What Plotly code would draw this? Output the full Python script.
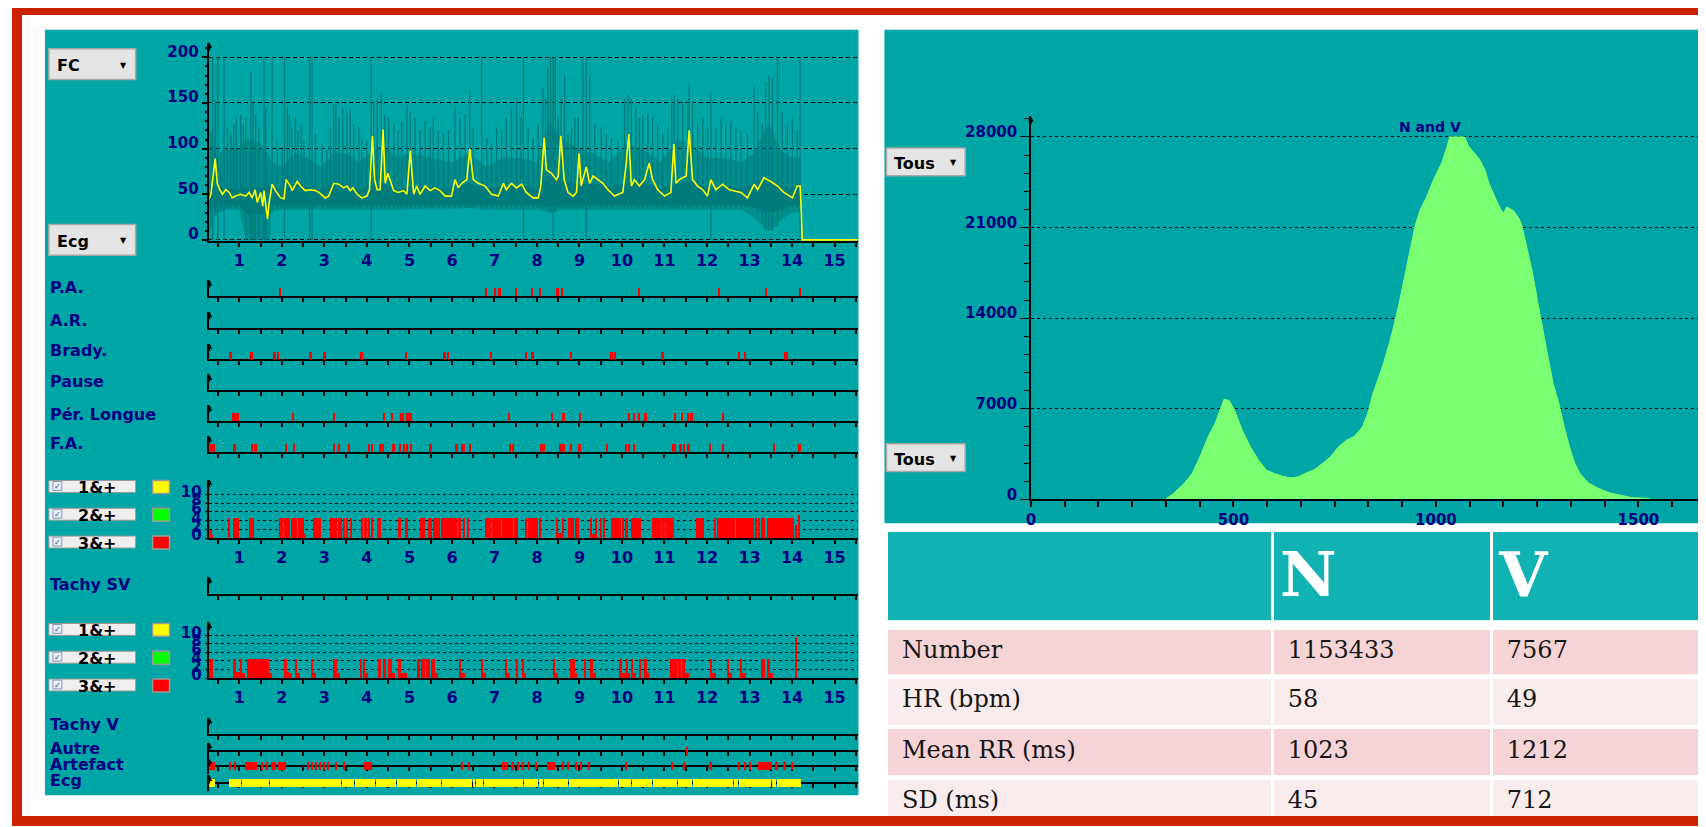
import plotly.graph_objects as go

# ======================= DATA =======================
hour_labels = ['1', '2', '3', '4', '5', '6', '7', '8', '9', '10', '11', '12', '13', '14', '15']
fc_yticks = [0, 50, 100, 150, 200]
count_yticks = [0, 2, 4, 6, 8, 10]
hist_xticks = [0, 500, 1000, 1500]
hist_yticks = [0, 7000, 14000, 21000, 28000]

# mean heart rate (yellow) : time in hours, bpm
fc_t = [0.29, 0.33, 0.43, 0.48, 0.54, 0.60, 0.68, 0.76, 0.83, 0.91,
        1.03, 1.15, 1.23, 1.30, 1.37, 1.42, 1.50, 1.55, 1.58, 1.62,
        1.66, 1.70, 1.73, 1.77, 1.85, 1.97, 2.05, 2.10, 2.20, 2.24,
        2.36, 2.44, 2.55, 2.67, 2.79, 2.87, 3.02, 3.10, 3.22, 3.34,
        3.45, 3.53, 3.61, 3.67, 3.77, 3.88, 4.00, 4.06, 4.13, 4.18,
        4.24, 4.31, 4.38, 4.43, 4.49, 4.57, 4.63, 4.74, 4.86, 4.94,
        5.02, 5.10, 5.17, 5.25, 5.37, 5.49, 5.60, 5.72, 5.84, 5.99,
        6.07, 6.15, 6.23, 6.35, 6.42, 6.50, 6.62, 6.78, 6.93, 7.09,
        7.21, 7.28, 7.40, 7.52, 7.64, 7.75, 7.91, 8.03, 8.09, 8.17,
        8.22, 8.34, 8.46, 8.50, 8.56, 8.64, 8.73, 8.85, 8.93, 8.99,
        9.04, 9.16, 9.24, 9.32, 9.43, 9.55, 9.67, 9.82, 10.02, 10.10,
        10.16, 10.22, 10.29, 10.41, 10.53, 10.64, 10.72, 10.84, 11.00, 11.15,
        11.22, 11.27, 11.35, 11.51, 11.58, 11.66, 11.78, 11.90, 12.01, 12.09,
        12.21, 12.37, 12.52, 12.64, 12.80, 12.95, 13.11, 13.19, 13.34, 13.50,
        13.66, 13.81, 14.01, 14.12, 14.19, 14.22, 14.24, 15.60]
fc_hr = [45, 50, 89, 62, 55, 50, 55, 52, 46, 48,
         50, 48, 52, 46, 55, 41, 52, 37, 54, 41,
         23, 41, 52, 61, 54, 46, 45, 66, 59, 54,
         64, 59, 54, 55, 54, 52, 46, 48, 62, 61,
         57, 59, 54, 57, 50, 46, 48, 55, 114, 66,
         55, 55, 121, 62, 73, 62, 54, 52, 54, 50,
         98, 50, 59, 50, 59, 54, 57, 54, 48, 48,
         66, 57, 62, 66, 100, 66, 62, 59, 50, 48,
         62, 55, 62, 57, 61, 52, 46, 46, 59, 112,
         77, 73, 66, 70, 114, 66, 52, 48, 52, 95,
         59, 80, 62, 70, 66, 62, 55, 48, 52, 84,
         116, 59, 66, 59, 66, 84, 66, 55, 48, 52,
         105, 62, 66, 70, 120, 66, 59, 55, 48, 66,
         55, 61, 55, 54, 52, 46, 61, 55, 68, 64,
         59, 52, 46, 59, 59, 29, 0, 0]

# instantaneous HR envelope (dark band)
env_t = [0.29, 0.4, 0.5, 0.7, 1.0, 1.15, 1.2, 1.5, 1.72, 1.75,
         2.0, 2.3, 2.6, 2.9, 3.2, 3.5, 3.8, 4.1, 4.4, 4.7,
         5.0, 5.5, 6.0, 6.4, 6.8, 7.2, 7.6, 8.0, 8.3, 8.6,
         9.0, 9.3, 9.7, 10.1, 10.5, 10.9, 11.3, 11.6, 12.0, 12.4,
         12.8, 13.1, 13.35, 13.5, 13.7, 14.0, 14.19]
env_hi = [125, 105, 95, 100, 100, 110, 110, 105, 90, 85,
          80, 95, 90, 80, 95, 95, 85, 95, 105, 90,
          95, 90, 85, 95, 80, 90, 90, 85, 130, 110,
          100, 95, 85, 105, 100, 85, 110, 105, 90, 90,
          85, 95, 120, 125, 100, 90, 90]
env_lo = [5, 25, 30, 33, 33, 0, 0, 0, 0, 32,
          33, 33, 33, 33, 33, 33, 33, 33, 33, 33,
          33, 34, 34, 35, 33, 33, 33, 33, 30, 33,
          33, 33, 33, 33, 33, 33, 33, 33, 33, 33,
          33, 25, 12, 10, 20, 30, 30]
core_hi = [60, 58, 58, 56, 56, 58, 58, 58, 60, 58,
           56, 62, 58, 56, 62, 62, 56, 60, 62, 56,
           58, 58, 56, 62, 56, 60, 60, 56, 70, 66,
           60, 62, 58, 62, 64, 56, 62, 64, 58, 60,
           56, 62, 68, 66, 60, 56, 60]
core_lo = [30, 35, 38, 38, 38, 28, 28, 28, 28, 37,
           38, 38, 38, 38, 38, 38, 38, 38, 38, 38,
           38, 38, 38, 38, 38, 38, 38, 38, 36, 38,
           38, 38, 38, 38, 38, 38, 38, 38, 38, 38,
           38, 36, 30, 30, 32, 38, 38]

# isolated instantaneous HR spikes: (time h, top bpm, bottom bpm)
fc_spikes = [(0.37, 200, 0), (0.43, 154, 30), (0.49, 200, 0), (0.56, 80, 35), (0.64, 200, 0),
             (0.72, 123, 35), (0.80, 116, 35), (0.87, 127, 35), (0.93, 134, 35), (1.03, 137, 35),
             (1.09, 127, 35), (1.15, 134, 0), (1.27, 184, 0), (1.32, 152, 0), (1.38, 137, 0),
             (1.46, 123, 0), (1.58, 200, 0), (1.62, 145, 0), (1.77, 200, 30), (1.89, 109, 35),
             (2.01, 98, 35), (2.06, 200, 0), (2.13, 145, 35), (2.18, 136, 35), (2.24, 123, 35),
             (2.32, 134, 35), (2.38, 120, 35), (2.46, 127, 35), (2.52, 109, 35), (2.65, 200, 0),
             (2.71, 200, 0), (2.79, 116, 35), (2.95, 105, 35), (3.06, 98, 35), (3.14, 123, 35),
             (3.22, 148, 35), (3.27, 152, 35), (3.34, 134, 35), (3.43, 145, 35), (3.53, 139, 35),
             (3.61, 143, 35), (3.69, 127, 35), (3.81, 123, 35), (3.88, 112, 35), (4.00, 109, 35),
             (4.10, 200, 0), (4.16, 148, 35), (4.24, 155, 35), (4.34, 162, 35), (4.42, 137, 35),
             (4.51, 134, 35), (4.63, 127, 35), (4.73, 120, 35), (4.82, 130, 35), (4.94, 148, 35),
             (5.02, 141, 35), (5.13, 134, 35), (5.25, 120, 35), (5.37, 130, 35), (5.49, 123, 35),
             (5.56, 134, 35), (5.68, 120, 35), (5.80, 116, 35), (5.92, 120, 35), (6.07, 145, 35),
             (6.19, 134, 35), (6.31, 137, 35), (6.42, 164, 35), (6.50, 123, 35), (6.70, 200, 35),
             (6.82, 112, 35), (6.93, 105, 35), (7.05, 123, 35), (7.17, 120, 35), (7.28, 134, 35),
             (7.40, 143, 35), (7.52, 155, 35), (7.62, 134, 35), (7.68, 200, 0), (7.79, 123, 35),
             (7.91, 112, 35), (8.03, 127, 35), (8.14, 166, 35), (8.20, 155, 35), (8.26, 188, 35),
             (8.32, 200, 30), (8.38, 200, 0), (8.43, 200, 30), (8.50, 134, 35), (8.57, 155, 35),
             (8.65, 180, 35), (8.73, 116, 35), (8.81, 123, 35), (8.89, 134, 35), (8.97, 134, 35),
             (9.08, 200, 35), (9.16, 200, 0), (9.24, 180, 35), (9.36, 127, 35), (9.51, 123, 35),
             (9.63, 116, 35), (9.75, 112, 35), (9.90, 109, 35), (10.06, 155, 35), (10.14, 159, 35),
             (10.22, 155, 35), (10.33, 145, 35), (10.41, 134, 35), (10.49, 137, 35), (10.61, 139, 35),
             (10.72, 134, 35), (10.84, 127, 35), (10.96, 116, 35), (11.08, 123, 35), (11.17, 155, 35),
             (11.23, 159, 35), (11.31, 155, 35), (11.43, 152, 35), (11.55, 148, 35), (11.58, 171, 35),
             (11.66, 152, 35), (11.78, 127, 35), (11.90, 134, 35), (12.01, 123, 35), (12.09, 161, 0),
             (12.21, 123, 35), (12.33, 134, 35), (12.44, 127, 35), (12.56, 130, 35), (12.68, 123, 35),
             (12.80, 120, 35), (12.95, 116, 35), (13.11, 168, 35), (13.19, 141, 30), (13.30, 127, 20),
             (13.38, 173, 12), (13.46, 180, 10), (13.54, 177, 10), (13.66, 200, 15), (13.77, 141, 25),
             (13.89, 127, 30), (14.01, 134, 35), (14.12, 120, 35), (14.19, 200, 0)]

# event strips: (start h, end h)
pa_events = [(1.96, 2.0), (6.80, 6.84), (7.01, 7.05), (7.09, 7.16), (7.50, 7.54), (7.87, 7.91),
             (8.06, 8.10), (8.48, 8.52), (8.59, 8.63), (10.39, 10.43), (12.27, 12.31),
             (13.39, 13.43), (14.18, 14.22)]
ar_events = []
brady_events = [(0.77, 0.84), (1.25, 1.33), (1.82, 1.86), (1.91, 1.95), (2.67, 2.71), (2.98, 3.05),
                (3.84, 3.91), (4.92, 4.96), (5.82, 5.86), (5.90, 5.94), (6.91, 6.95), (7.73, 7.77),
                (7.86, 7.93), (8.79, 8.83), (9.75, 9.79), (9.83, 9.87), (10.92, 11.0), (12.75, 12.79),
                (12.89, 12.93), (13.83, 13.91)]
pause_events = []
long_events = [(0.84, 1.0), (2.26, 2.30), (3.22, 3.26), (4.40, 4.44), (4.58, 4.62), (4.79, 4.83),
               (4.85, 4.89), (4.92, 5.06), (7.34, 7.38), (8.34, 8.38), (8.62, 8.66), (9.0, 9.04),
               (10.16, 10.20), (10.27, 10.31), (10.39, 10.43), (10.55, 10.59), (11.25, 11.29),
               (11.41, 11.45), (11.55, 11.59), (11.63, 11.67), (12.37, 12.41)]
fa_events = [(0.31, 0.34), (0.36, 0.39), (0.40, 0.43), (0.88, 0.92), (1.29, 1.33), (1.36, 1.42),
             (2.08, 2.13), (2.28, 2.32), (3.22, 3.26), (3.33, 3.37), (3.57, 3.62), (4.04, 4.08),
             (4.11, 4.16), (4.30, 4.42), (4.62, 4.66), (4.78, 4.82), (4.86, 4.90), (4.94, 4.98),
             (5.04, 5.08), (5.49, 5.53), (6.08, 6.16), (6.23, 6.31), (6.42, 6.46), (7.36, 7.40),
             (7.44, 7.48), (8.09, 8.20), (8.52, 8.66), (8.79, 8.83), (8.97, 9.04), (9.65, 9.69),
             (10.09, 10.13), (10.16, 10.20), (10.27, 10.31), (11.18, 11.29), (11.37, 11.41),
             (11.45, 11.49), (11.55, 11.62), (12.07, 12.11), (12.37, 12.41), (13.57, 13.61),
             (14.17, 14.21)]

# supraventricular ectopy counts: (start h, end h, count)
sv_events = [(0.29, 0.32, 4.6), (0.32, 0.36, 2.0), (0.36, 0.39, 0.8), (0.76, 0.80, 4.6), (0.87, 0.95, 4.6),
             (0.97, 1.01, 4.6), (1.24, 1.36, 4.6), (1.93, 1.98, 4.6), (2.00, 2.04, 4.6), (2.06, 2.20, 4.6),
             (2.22, 2.36, 4.6), (2.38, 2.45, 4.6), (2.47, 2.52, 4.6), (2.54, 2.57, 1.0), (2.75, 2.93, 4.6),
             (3.13, 3.30, 4.6), (3.32, 3.42, 4.6), (3.44, 3.49, 4.6), (3.53, 3.57, 4.6), (3.60, 3.67, 4.6),
             (3.88, 3.92, 4.6), (3.94, 4.00, 4.6), (4.04, 4.08, 4.6), (4.10, 4.16, 4.6), (4.24, 4.35, 4.6),
             (4.74, 4.82, 4.6), (4.90, 4.98, 4.6), (5.25, 5.37, 4.6), (5.45, 5.53, 4.6), (5.56, 5.72, 4.6),
             (5.76, 6.05, 4.6), (6.08, 6.12, 4.6), (6.15, 6.23, 4.6), (6.27, 6.31, 4.6), (6.36, 6.42, 4.6),
             (6.79, 6.93, 4.6), (6.95, 7.17, 4.6), (7.19, 7.44, 4.6), (7.48, 7.56, 4.6), (7.73, 7.78, 4.6),
             (7.80, 7.86, 4.6), (7.88, 8.03, 4.6), (8.05, 8.11, 4.6), (8.46, 8.50, 4.6), (8.50, 8.60, 1.2),
             (8.60, 8.65, 4.6), (8.73, 8.89, 4.6), (8.91, 9.0, 4.6), (9.28, 9.31, 4.6), (9.31, 9.38, 1.0),
             (9.38, 9.43, 4.6), (9.50, 9.54, 4.6), (9.56, 9.61, 4.6), (9.75, 9.98, 4.6), (10.02, 10.06, 4.6),
             (10.08, 10.14, 4.6), (10.22, 10.45, 4.6), (10.72, 10.92, 4.6), (10.95, 11.02, 4.6),
             (11.04, 11.23, 4.6), (11.74, 11.95, 4.6), (12.17, 12.23, 4.6), (12.25, 12.40, 4.6),
             (12.43, 12.47, 4.6), (12.49, 12.66, 4.6), (12.68, 13.11, 4.6), (13.15, 13.18, 4.6),
             (13.22, 13.25, 4.6), (13.29, 13.32, 4.6), (13.35, 13.38, 4.6), (13.42, 14.05, 4.6),
             (14.08, 14.12, 3.0), (14.16, 14.19, 5.5)]
tachy_sv_events = []

# ventricular ectopy counts: (start h, end h, count)
v_events = [(0.30, 0.40, 4.4), (0.87, 0.93, 4.4), (0.93, 1.03, 1.2), (1.03, 1.07, 4.4), (1.07, 1.15, 1.0),
            (1.19, 1.70, 4.4), (1.70, 1.77, 1.0), (2.05, 2.12, 4.4), (2.12, 2.17, 1.2), (2.17, 2.25, 1.0),
            (2.32, 2.36, 4.4), (2.36, 2.44, 1.0), (2.71, 2.75, 4.4), (2.75, 2.82, 1.0), (3.22, 3.25, 4.4),
            (3.27, 3.30, 4.4), (3.30, 3.38, 1.0), (3.87, 3.90, 4.4), (3.92, 3.96, 4.4), (3.96, 4.04, 1.0),
            (4.28, 4.34, 4.4), (4.39, 4.47, 4.4), (4.51, 4.59, 4.4), (4.59, 4.68, 1.0), (4.74, 4.81, 4.4),
            (4.81, 4.95, 1.0), (5.21, 5.25, 4.4), (5.29, 5.37, 4.4), (5.41, 5.44, 4.4), (5.46, 5.50, 4.4),
            (5.52, 5.60, 4.4), (5.60, 5.67, 1.0), (6.19, 6.23, 4.4), (6.23, 6.31, 1.0), (6.70, 6.74, 4.4),
            (6.74, 6.82, 1.0), (7.26, 7.31, 4.4), (7.31, 7.38, 1.0), (7.52, 7.56, 4.4), (7.65, 7.70, 4.4),
            (7.70, 7.76, 1.0), (8.40, 8.44, 4.4), (8.44, 8.51, 1.0), (8.79, 8.85, 4.4), (8.85, 8.95, 1.0),
            (8.88, 8.91, 4.4), (9.12, 9.16, 4.4), (9.26, 9.32, 4.4), (9.32, 9.40, 1.0), (9.94, 10.02, 4.4),
            (10.02, 10.10, 1.0), (10.12, 10.15, 4.4), (10.15, 10.20, 1.0), (10.24, 10.28, 4.4),
            (10.28, 10.35, 1.0), (10.41, 10.45, 4.4), (10.53, 10.59, 4.4), (10.59, 10.64, 1.0),
            (11.14, 11.31, 4.4), (11.33, 11.40, 4.4), (11.42, 11.50, 4.4), (11.50, 11.58, 1.0),
            (12.09, 12.13, 4.4), (12.13, 12.21, 1.0), (12.48, 12.52, 4.4), (12.52, 12.60, 1.0),
            (12.80, 12.84, 4.4), (12.84, 12.92, 1.0), (13.29, 13.38, 4.4), (13.42, 13.48, 4.4),
            (13.48, 13.56, 1.0), (14.09, 14.11, 9.5)]
tachy_v_events = []
other_events = [(11.52, 11.56)]
artefact_events = [(0.28, 0.43), (0.78, 0.82), (0.90, 0.94), (1.15, 1.42), (1.53, 1.57), (1.65, 1.69),
                   (1.76, 1.86), (1.92, 2.10), (2.61, 2.65), (2.71, 2.75), (2.79, 2.83), (2.89, 2.93),
                   (2.99, 3.03), (3.08, 3.12), (3.26, 3.30), (3.45, 3.49), (3.94, 4.12), (6.24, 6.28),
                   (6.40, 6.44), (7.21, 7.25), (7.30, 7.34), (7.42, 7.46), (7.55, 7.59), (7.67, 7.71),
                   (7.80, 7.84), (7.97, 8.01), (8.25, 8.44), (8.60, 8.64), (8.73, 8.77), (8.91, 8.95),
                   (9.04, 9.08), (9.22, 9.26), (10.09, 10.13), (11.18, 11.22), (11.46, 11.50),
                   (12.08, 12.12), (12.74, 12.78), (12.89, 12.93), (13.01, 13.05), (13.21, 13.53),
                   (13.63, 13.67), (13.82, 13.86), (14.00, 14.04)]
ecg_ok = [(0.28, 0.43), (0.76, 1.04), (1.06, 1.70), (1.72, 2.59), (2.61, 3.40), (3.42, 3.71),
          (3.73, 4.21), (4.23, 4.45), (4.47, 4.70), (4.72, 4.99), (5.01, 5.17), (5.19, 5.76),
          (5.78, 6.48), (6.50, 6.56), (6.58, 6.66), (6.68, 6.75), (6.77, 7.68), (7.70, 8.03),
          (8.05, 8.15), (8.17, 8.74), (8.76, 9.39), (9.41, 9.67), (9.69, 9.92), (9.94, 10.23),
          (10.25, 10.54), (10.56, 10.72), (10.74, 11.31), (11.33, 11.65), (11.67, 12.62),
          (12.64, 12.75), (12.77, 13.08), (13.10, 13.52), (13.54, 13.64), (13.66, 14.21)]

# RR histogram (ms, beat count)
hist_rr = [332, 352, 378, 398, 417, 437, 454, 470, 477, 490, 503, 522, 542, 562, 582, 601, 621, 641, 660, 680,
           700, 719, 739, 759, 778, 798, 818, 831, 844, 857, 870, 884, 897, 910, 923, 936, 949, 962, 975, 995,
           1015, 1028, 1034, 1071, 1080, 1090, 1107, 1120, 1133, 1153, 1166, 1175, 1192, 1205, 1212, 1225,
           1238, 1251, 1264, 1277, 1290, 1304, 1317, 1330, 1343, 1356, 1376, 1402, 1428, 1455, 1481, 1520, 1533]
hist_n = [0, 460, 1230, 2000, 3270, 4810, 5830, 7110, 7750, 7620, 6860, 5320, 4040, 3020, 2250, 2000, 1790,
          1660, 1740, 2050, 2300, 2760, 3270, 4040, 4550, 4860, 5580, 6600, 8130, 9290, 10440, 11970, 13510,
          15300, 17340, 19390, 21180, 22460, 23230, 24760, 26040, 27320, 28000, 28000, 27320, 26930, 26300,
          25530, 24250, 22850, 22080, 22590, 22300, 21700, 21180, 19390, 17600, 15300, 13000, 10950, 8900,
          7370, 5580, 4040, 2760, 2000, 1280, 840, 510, 330, 150, 80, 0]

# summary table
table_head = ['', 'N', 'V']
table_rows = ['Number', 'HR (bpm)', 'Mean RR (ms)', 'SD (ms)']
table_n = ['1153433', '58', '1023', '45']
table_v = ['7567', '49', '1212', '712']

# ======================= STYLE / LAYOUT =======================
# the page puts the figure a few pixels in from the window's corner: the figure is
# sized so that it fills the 1706x827 window, and screen pixels are mapped into it.
OFF_X, OFF_Y = 10, 8
FW, FH = 1706 - OFF_X, 827 - OFF_Y


def X(px):
    return (px - OFF_X) / FW


def Y(py):
    return 1 - (py - OFF_Y) / FH


TEAL = '#00A5A5'
DARK = '#007B7C'
NAVY = '#000080'
RED = '#FF0000'
YELLOW = '#FFFF00'
GREEN = '#7BFF72'
FRAME = '#CC2200'
T_RANGE = [0.295, 15.54]

lab_font = dict(family='DejaVu Sans', size=16, color=NAVY, weight='bold')
tick16 = dict(family='DejaVu Sans', size=16, color=NAVY, weight='bold')
tick15 = dict(family='DejaVu Sans', size=15, color=NAVY, weight='bold')
tick14 = dict(family='DejaVu Sans', size=14, color=NAVY, weight='bold')

tick_vals, tick_text = [], []
for lab in hour_labels:
    h = float(lab)
    tick_vals += [h - 0.5, h]
    tick_text += ['', lab]
tick_vals.append(tick_vals[-1] + 0.5)
tick_text.append('')

fig = go.Figure()
layout = dict(width=FW, height=FH, margin=dict(l=0, r=0, t=0, b=0), paper_bgcolor='white',
              plot_bgcolor='rgba(0,0,0,0)', showlegend=False, barmode='overlay', bargap=0)
annotations = []
shapes = []


def axname(n):
    return '' if n == 1 else str(n)


def time_axes(n, top, line, yrange, labels=False, centered=False, yextra=None):
    s = axname(n)
    xa = dict(domain=[X(207), X(857)], range=T_RANGE, anchor='y' + s, showline=True,
              linecolor='black', linewidth=2, ticks='outside', ticklen=4, tickwidth=2,
              tickcolor='black', tickmode='array', tickvals=tick_vals, ticktext=tick_text,
              showticklabels=labels, tickfont=tick16, showgrid=False, zeroline=False,
              fixedrange=True, layer='below traces')
    if centered:
        ya_dom = [Y(line + 8), Y(line - 8)]
        xa.update(anchor='free', position=Y(line))
    else:
        ya_dom = [Y(line), Y(top)]
    ya = dict(domain=ya_dom, range=yrange, anchor='x' + s, showline=True, linecolor='black',
              linewidth=1.5, ticks='', showticklabels=False, showgrid=False, zeroline=False,
              fixedrange=True)
    if yextra:
        ya.update(yextra)
    layout['xaxis' + s] = xa
    layout['yaxis' + s] = ya
    annotations.append(dict(x=T_RANGE[0], y=yrange[1], xref='x' + s, yref='y' + s, text='',
                            showarrow=True, ax=0, ay=9, arrowhead=2, arrowsize=0.8,
                            arrowwidth=1.4, arrowcolor='black'))


def interval_bars(n, events, color, height=1.0, base=0.0):
    if not events:
        return
    s = axname(n)
    xs = [(e[0] + e[1]) / 2 for e in events]
    ws = [e[1] - e[0] for e in events]
    hs = [e[2] if len(e) > 2 else height for e in events]
    fig.add_trace(go.Bar(x=xs, y=hs, width=ws, base=[base] * len(events),
                         marker=dict(color=color, line=dict(width=0)),
                         xaxis='x' + s, yaxis='y' + s, hoverinfo='skip'))


count_axis = dict(tickmode='array', tickvals=count_yticks, ticktext=[str(v) for v in count_yticks],
                  showticklabels=True, tickfont=tick15, ticks='outside', ticklen=3,
                  tickcolor='black', showgrid=True, gridcolor='black', griddash='3px,3px',
                  gridwidth=1, ticklabelshift=-3)

# ---- 1: heart-rate trend
time_axes(1, 43, 243, [-1.5, 216], labels=True, yextra=dict(
    tickmode='array', tickvals=fc_yticks, ticktext=[str(v) for v in fc_yticks], showticklabels=True,
    tickfont=tick15, ticks='outside', ticklen=6, tickwidth=1.5, tickcolor='black',
    showgrid=True, gridcolor='black', griddash='4px,3px', gridwidth=1, ticklabelshift=-6,
    minor=dict(dtick=10, ticks='outside', ticklen=3, tickcolor='black', showgrid=False)))
fig.add_trace(go.Scatter(x=env_t + env_t[::-1], y=env_hi + env_lo[::-1], fill='toself',
                         fillcolor='rgba(0,112,114,0.45)', line=dict(width=0), mode='lines',
                         hoverinfo='skip'))
fig.add_trace(go.Scatter(x=env_t + env_t[::-1], y=core_hi + core_lo[::-1], fill='toself',
                         fillcolor=DARK, line=dict(width=0), mode='lines', hoverinfo='skip'))
sx, sy = [], []
for t, hi, lo in fc_spikes:
    sx += [t, t, None]
    sy += [lo, hi, None]
fig.add_trace(go.Scatter(x=sx, y=sy, mode='lines', line=dict(color=DARK, width=1.3), hoverinfo='skip'))
fig.add_trace(go.Scatter(x=fc_t, y=fc_hr, mode='lines', line=dict(color=YELLOW, width=1.6),
                         hoverinfo='skip'))

# ---- 2-7: rhythm event strips
strip_specs = [(2, 298, pa_events), (3, 330, ar_events), (4, 362, brady_events),
               (5, 393, pause_events), (6, 424, long_events), (7, 455, fa_events)]
for n, line, ev in strip_specs:
    time_axes(n, line - 16, line, [0, 2])
    interval_bars(n, ev, RED, 1.0)

# ---- 8: SV ectopy counts
time_axes(8, 483, 542, [0, 13.4], labels=True, yextra=count_axis)
interval_bars(8, sv_events, RED)
# ---- 9: Tachy SV
time_axes(9, 581, 598, [0, 2])
interval_bars(9, tachy_sv_events, RED)
# ---- 10: V ectopy counts
time_axes(10, 627, 683, [0, 13.0], labels=True, yextra=count_axis)
interval_bars(10, v_events, RED)
# ---- 11: Tachy V
time_axes(11, 723, 739, [0, 2])
interval_bars(11, tachy_v_events, RED)
# ---- 12-14: centered strips
time_axes(12, None, 756, [-1, 1], centered=True)
interval_bars(12, other_events, RED, 1.0, -0.5)
time_axes(13, None, 772, [-1, 1], centered=True)
interval_bars(13, artefact_events, RED, 1.05, -0.52)
time_axes(14, None, 789, [-1, 1], centered=True)
interval_bars(14, ecg_ok, YELLOW, 1.05, -0.52)

# ---- 15: RR histogram
layout['xaxis15'] = dict(domain=[X(1031), 1.0], range=[0, 1662], anchor='y15', showline=True,
                         linecolor='black', linewidth=2, ticks='outside', ticklen=6, tickwidth=1.5,
                         tickcolor='black', tickmode='array', tickvals=hist_xticks,
                         ticktext=[str(v) for v in hist_xticks], tickfont=tick15, showgrid=False,
                         zeroline=False, fixedrange=True,
                         minor=dict(tick0=0, dtick=hist_xticks[1] / 6, ticks='outside', ticklen=6,
                                    tickcolor='black', tickwidth=1.5, showgrid=False))
layout['yaxis15'] = dict(domain=[Y(503), Y(117)], range=[0, 29600], anchor='x15', showline=True,
                         linecolor='black', linewidth=1.5, ticks='outside', ticklen=9, tickwidth=1,
                         tickcolor='black', tickmode='array', tickvals=hist_yticks,
                         ticktext=[str(v) for v in hist_yticks], tickfont=tick15, showgrid=True,
                         gridcolor='black', griddash='3px,3px', gridwidth=1, zeroline=False,
                         fixedrange=True, ticklabelshift=-5,
                         minor=dict(dtick=hist_yticks[1] / 5, ticks='outside', ticklen=5,
                                    tickcolor='black', showgrid=False))
fig.add_trace(go.Scatter(x=hist_rr, y=hist_n, mode='lines', fill='tozeroy', fillcolor=GREEN,
                         line=dict(color=GREEN, width=1), xaxis='x15', yaxis='y15', hoverinfo='skip'))
annotations.append(dict(x=X(1431), y=Y(128), xref='paper', yref='paper', text='N and V',
                        xanchor='center', yanchor='middle', showarrow=False,
                        font=dict(family='DejaVu Sans', size=14, color=NAVY, weight='bold')))
annotations.append(dict(x=hist_xticks[0], y=hist_yticks[-1] * 1.057, xref='x15', yref='y15', text='',
                        showarrow=True, ax=0, ay=9, arrowhead=2, arrowsize=0.8, arrowwidth=1.4,
                        arrowcolor='black'))

# ---- summary table (one table per row to keep the white gaps)
row_px = [(534, 625), (633, 680), (682, 731), (733, 782), (784, 827)]
row_fill = ['#10B2B4', '#F6D4D6', '#FAEBEC', '#F6D4D6', '#FAEBEC']
all_rows = [table_head] + [[r, nv, vv] for r, nv, vv in zip(table_rows, table_n, table_v)]
for i, (vals, (t, b), fc) in enumerate(zip(all_rows, row_px, row_fill)):
    if i == 0:
        values = ['<b>%s</b>' % v if v else '' for v in vals]
        font = dict(family='DejaVu Serif', size=62, color='white')
    else:
        # <sub> renders at 70 % of the base size (34.3 -> 24 px) and lowers the
        # baseline a little, which centres the text in the row like the original
        values = ['<sub>\u00a0%s</sub>' % v for v in vals]
        font = dict(family='DejaVu Serif', size=34.3, color='#161616')
    fig.add_trace(go.Table(domain=dict(x=[X(886), 1.0], y=[max(Y(b), 0.0), Y(t)]),
                           columnwidth=[387, 220, 213],
                           header=dict(values=values, height=b - t, fill=dict(color=fc),
                                       line=dict(color='white', width=3), font=font, align='left')))

# ---- chrome: frame, panels, buttons, labels
shapes.append(dict(type='rect', xref='paper', yref='paper', x0=X(42), x1=X(858), y0=Y(801), y1=Y(30),
                   fillcolor=TEAL, line=dict(width=0), layer='below'))
shapes.append(dict(type='rect', xref='paper', yref='paper', x0=X(884), x1=1.0, y0=Y(527), y1=Y(30),
                   fillcolor=TEAL, line=dict(width=0), layer='below'))
shapes.append(dict(type='rect', xref='paper', yref='paper', x0=X(14), x1=X(1740), y0=Y(827), y1=Y(10),
                   line=dict(color=FRAME, width=10), fillcolor='rgba(0,0,0,0)', layer='above'))

for lab, x0, y0, x1, y1 in [('FC', 46, 49, 133, 80), ('Ecg', 46, 226, 133, 257),
                            ('Tous', 886, 149, 965, 177), ('Tous', 886, 447, 965, 475)]:
    shapes.append(dict(type='rect', xref='paper', yref='paper', x0=X(x0), x1=X(x1), y0=Y(y1), y1=Y(y0),
                       fillcolor='#E4E4E4', line=dict(color='#A8A8A8', width=1.5), layer='above'))
    annotations.append(dict(x=X(x0 + 6), y=Y((y0 + y1) / 2 + 1.5), xref='paper', yref='paper', text=lab,
                            xanchor='left', yanchor='middle', showarrow=False,
                            font=dict(family='DejaVu Sans', size=16, color='black', weight='bold')))
    annotations.append(dict(x=X(x1 - 12), y=Y((y0 + y1) / 2 + 1), xref='paper', yref='paper', text='▼',
                            xanchor='center', yanchor='middle', showarrow=False,
                            font=dict(family='DejaVu Sans', size=8, color='black')))

for (y0, y1), lab, col in zip([(484, 496), (512, 524), (540, 552), (628, 640), (656, 668), (684, 696)],
                              ['1&+', '2&+', '3&+', '1&+', '2&+', '3&+'],
                              [YELLOW, '#00FF00', RED, YELLOW, '#00FF00', RED]):
    shapes.append(dict(type='rect', xref='paper', yref='paper', x0=X(46), x1=X(133), y0=Y(y1), y1=Y(y0),
                       fillcolor='#EFEFEF', line=dict(color='#9A9A9A', width=1), layer='above'))
    shapes.append(dict(type='rect', xref='paper', yref='paper', x0=X(50), x1=X(59), y0=Y(y1 - 2),
                       y1=Y(y0 + 1), fillcolor='#E6ECF4', line=dict(color='#7F9DB9', width=1), layer='above'))
    shapes.append(dict(type='rect', xref='paper', yref='paper', x0=X(150), x1=X(167), y0=Y(y1 + 1),
                       y1=Y(y0), fillcolor=col, line=dict(color='#9A9A9A', width=1.5), layer='above'))
    annotations.append(dict(x=X(73), y=Y((y0 + y1) / 2 + 1.5), xref='paper', yref='paper', text=lab,
                            xanchor='left', yanchor='middle', showarrow=False,
                            font=dict(family='DejaVu Sans', size=16, color='black', weight='bold')))
    annotations.append(dict(x=X(54.5), y=Y((y0 + y1) / 2), xref='paper', yref='paper', text='✓',
                            xanchor='center', yanchor='middle', showarrow=False,
                            font=dict(family='DejaVu Sans', size=8, color='#3050A0')))

for lab, py in [('P.A.', 286), ('A.R.', 319), ('Brady.', 349), ('Pause', 380), ('Pér. Longue', 413),
                ('F.A.', 443), ('Tachy SV', 585), ('Tachy V', 726), ('Autre', 750), ('Artefact', 766),
                ('Ecg', 782)]:
    annotations.append(dict(x=X(45), y=Y(py + 4), xref='paper', yref='paper', text=lab, xanchor='left',
                            yanchor='middle', showarrow=False, font=lab_font))

layout['annotations'] = annotations
layout['shapes'] = shapes
fig.update_layout(**layout)
fig.write_html('out.html')
